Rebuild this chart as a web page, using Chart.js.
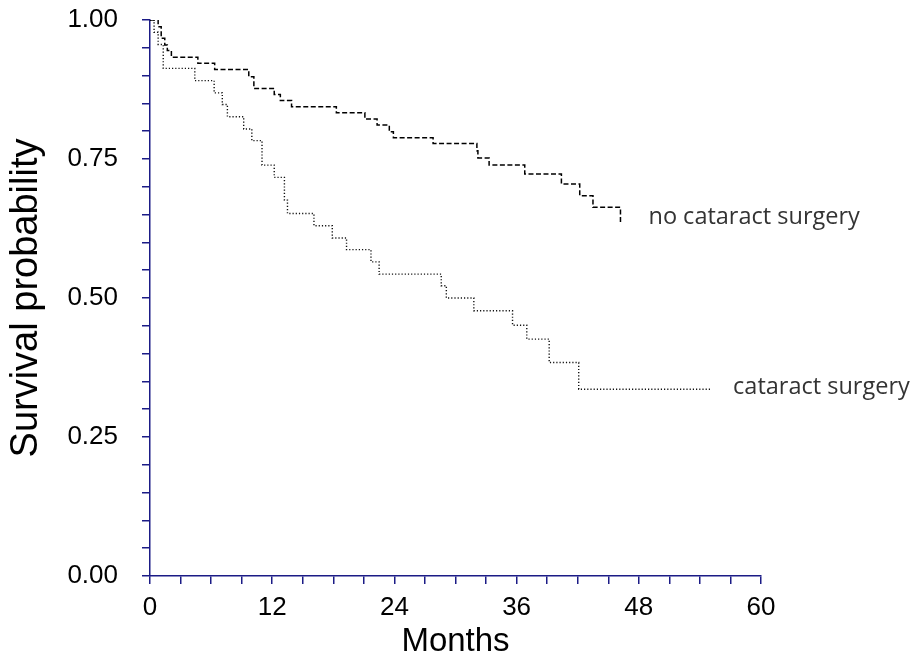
<!DOCTYPE html>
<html>
<head>
<meta charset="utf-8">
<script src="https://cdn.jsdelivr.net/npm/chart.js@4.4.1/dist/chart.umd.min.js"></script>
<style>
  html, body { margin: 0; padding: 0; background: #ffffff; }
  #wrap { width: 916px; height: 659px; position: relative; }
</style>
</head>
<body>
<div id="wrap"><canvas id="c" width="916" height="659"></canvas></div>
<script>
// ---- Data ----
const seriesNames = ['no cataract surgery', 'cataract surgery'];

const noSurgMonths = [0, 0.8, 1.1, 1.45, 1.7, 2.1, 4.7, 6.35, 9.7, 10.2, 12.2, 12.8, 13.9, 18.3, 21.1, 22.3, 23.5, 23.9, 27.8, 32.1, 32.2, 33.3, 36.8, 40.4, 42.2, 43.5, 46.2];
const noSurgSurv   = [1.00, 0.988, 0.967, 0.955, 0.945, 0.933, 0.922, 0.911, 0.898, 0.877, 0.866, 0.855, 0.844, 0.833, 0.822, 0.811, 0.799, 0.788, 0.778, 0.765, 0.752, 0.739, 0.723, 0.705, 0.684, 0.663, 0.633];

const surgMonths = [0, 0.4, 0.8, 1.3, 4.4, 6.3, 7.1, 7.6, 9.2, 10.0, 11.0, 12.2, 13.2, 13.5, 16.1, 17.9, 19.3, 21.7, 22.5, 28.6, 29.1, 31.8, 35.6, 37.0, 39.2, 42.1, 55.0];
const surgSurv   = [1.00, 0.978, 0.956, 0.913, 0.891, 0.869, 0.848, 0.826, 0.804, 0.783, 0.739, 0.717, 0.676, 0.652, 0.630, 0.608, 0.587, 0.565, 0.543, 0.522, 0.500, 0.477, 0.451, 0.426, 0.384, 0.336, 0.336];

const xTickLabels = ['0', '12', '24', '36', '48', '60'];
const yTickLabels = ['0.00', '0.25', '0.50', '0.75', '1.00'];
const xAxisTitle = 'Months';
const yAxisTitle = 'Survival probability';

// ---- Build points ----
const toPts = (xs, ys) => xs.map((x, i) => ({ x: x, y: ys[i] }));

const axisColor = '#1b1b86';
const tickFont = { family: 'Liberation Sans, Arial, sans-serif', size: 26 };

const curveLabels = {
  id: 'curveLabels',
  afterDatasetsDraw(chart) {
    const ctx = chart.ctx;
    const xs = chart.scales.x, ys = chart.scales.y;
    ctx.save();
    ctx.font = '23.5px "Open Sans", sans-serif';
    ctx.fillStyle = '#333333';
    ctx.textAlign = 'left';
    ctx.textBaseline = 'middle';
    const n1 = noSurgMonths.length - 1;
    ctx.fillText(seriesNames[0],
      xs.getPixelForValue(noSurgMonths[n1]) + 28,
      ys.getPixelForValue(noSurgSurv[n1]) - 7);
    const n2 = surgMonths.length - 1;
    ctx.fillText(seriesNames[1],
      xs.getPixelForValue(surgMonths[n2]) + 23,
      ys.getPixelForValue(surgSurv[n2]) - 2);
    ctx.restore();
  }
};

new Chart(document.getElementById('c'), {
  type: 'line',
  data: {
    datasets: [
      {
        label: seriesNames[0],
        data: toPts(noSurgMonths, noSurgSurv),
        stepped: true,
        borderColor: '#000000',
        borderWidth: 1.5,
        borderDash: [5, 2.5],
        pointRadius: 0,
        fill: false
      },
      {
        label: seriesNames[1],
        data: toPts(surgMonths, surgSurv),
        stepped: true,
        borderColor: '#111111',
        borderWidth: 1.4,
        borderDash: [1.2, 2],
        pointRadius: 0,
        fill: false
      }
    ]
  },
  options: {
    responsive: false,
    animation: false,
    devicePixelRatio: 1,
    layout: { padding: { top: 20, right: 155, left: 0, bottom: 0 } },
    plugins: { legend: { display: false }, tooltip: { enabled: false } },
    scales: {
      x: {
        type: 'linear',
        min: 0, max: 60,
        afterFit: (s) => { s.height = 83; },
        border: { display: true, color: axisColor, width: 1.5 },
        grid: { drawOnChartArea: false, drawTicks: true, tickLength: 8, color: axisColor, tickColor: axisColor, lineWidth: 1.5 },
        ticks: {
          stepSize: 3,
          autoSkip: false,
          maxRotation: 0,
          padding: 8,
          color: '#000000',
          font: tickFont,
          callback: (v) => {
            const i = xTickLabels.indexOf(String(Math.round(v)));
            return (Math.abs(v % 12) < 1e-6 && i >= 0) ? xTickLabels[i] : '';
          }
        },
        title: { display: true, text: xAxisTitle, color: '#000000', font: { family: 'Liberation Sans, Arial, sans-serif', size: 33 }, padding: { top: 0, bottom: -3 } }
      },
      y: {
        type: 'linear',
        min: 0, max: 1,
        afterFit: (s) => { s.width = 150; s.paddingTop = 0; s.paddingBottom = 0; },
        border: { display: true, color: axisColor, width: 1.5 },
        grid: { drawOnChartArea: false, drawTicks: true, tickLength: 8, color: axisColor, tickColor: axisColor, lineWidth: 1.5 },
        ticks: {
          stepSize: 0.05,
          autoSkip: false,
          padding: 24,
          color: '#000000',
          font: tickFont,
          callback: (v) => {
            const q = v * 4;
            if (Math.abs(q - Math.round(q)) < 1e-6) return yTickLabels[Math.round(q)];
            return '';
          }
        },
        title: { display: true, text: yAxisTitle, color: '#000000', font: { family: 'Liberation Sans, Arial, sans-serif', size: 38 }, padding: { top: 4, bottom: 0 } }
      }
    }
  },
  plugins: [curveLabels]
});
</script>
</body>
</html>
